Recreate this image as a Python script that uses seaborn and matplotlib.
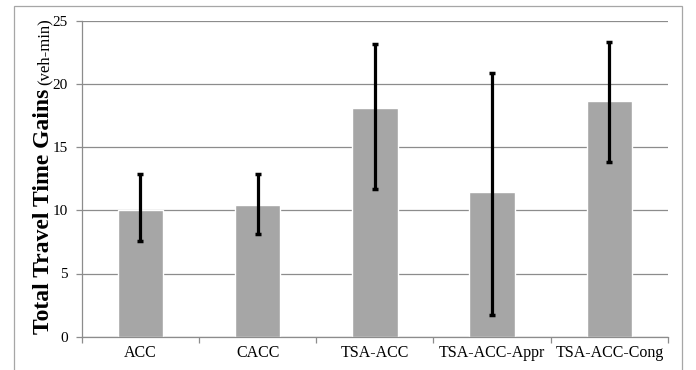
import matplotlib
matplotlib.use('Agg')
import matplotlib.pyplot as plt
import seaborn as sns
import pandas as pd
import numpy as np
from matplotlib.patches import Rectangle
from matplotlib.ticker import FixedLocator

categories = ["ACC", "CACC", "TSA-ACC", "TSA-ACC-Appr", "TSA-ACC-Cong"]
gains = [10.0, 10.4, 18.07, 11.43, 18.68]
ci_low = [7.55, 8.15, 11.7, 1.68, 13.8]
ci_high = [12.85, 12.9, 23.12, 20.88, 23.3]
yticks = [0, 5, 10, 15, 20, 25]
label_main = "Total Travel Time Gains"
label_unit = "(veh-min)"

sns.set_theme(style='white')
plt.rcParams['font.family'] = ['Liberation Serif', 'DejaVu Serif']

W, H = 696, 370
fig = plt.figure(figsize=(W / 100, H / 100), dpi=100)
fig.patch.set_facecolor('white')

# outer chart border
fig.patches.append(Rectangle((14 / W, -0.1), (682 - 14) / W, 1.1 - 6 / H,
                             transform=fig.transFigure, fill=False,
                             edgecolor='#a6a6a6', linewidth=0.9))

ax = fig.add_axes([81.7 / W, 1 - 336.7 / H, (668 - 81.7) / W, (336.7 - 20.7) / H])
df = pd.DataFrame({'cat': categories, 'val': gains})
sns.barplot(data=df, x='cat', y='val', color='#A6A6A6', width=0.387,
            saturation=1, errorbar=None, ax=ax, zorder=2)

xs = [p.get_x() + p.get_width() / 2 for p in ax.patches]
g = np.array(gains)
yerr = [g - np.array(ci_low), np.array(ci_high) - g]
ax.errorbar(xs, gains, yerr=yerr, fmt='none', ecolor='black', elinewidth=2.3,
            capsize=2.5, capthick=2.5, zorder=3)

ax.set_ylim(0, 25)
ax.set_xlim(-0.5, len(categories) - 0.5)
ax.set_yticks(yticks)
ax.set_yticklabels([str(t) for t in yticks])
ax.yaxis.grid(True, color='#8c8c8c', linewidth=0.9)
ax.xaxis.grid(False)
ax.set_axisbelow(True)
for s in ['top', 'right']:
    ax.spines[s].set_visible(False)
for s in ['left', 'bottom']:
    ax.spines[s].set_color('#8c8c8c')
    ax.spines[s].set_linewidth(0.9)

ax.xaxis.set_minor_locator(FixedLocator(np.arange(-0.5, len(categories), 1.0)))
ax.tick_params(axis='x', which='major', length=0, pad=6, labelsize=11.5, labelcolor='black')
ax.tick_params(axis='x', which='minor', length=4, width=0.9, color='#8c8c8c', direction='out', bottom=True)
ax.tick_params(axis='y', which='major', length=4, width=0.9, color='#8c8c8c', direction='out',
               left=True, pad=6, labelsize=11, labelcolor='black')
ax.set_xlabel('')
ax.set_ylabel('')

# composite y label
x_base = 49 / W
y_start = 1 - 334 / H
t1 = fig.text(x_base, y_start, label_main, rotation=90, rotation_mode='anchor',
              ha='left', va='baseline', fontsize=17, fontweight='bold', color='black')
fig.canvas.draw()
bb = t1.get_window_extent(renderer=fig.canvas.get_renderer())
y_end = bb.y1 / H
fig.text(x_base, y_end + 4 / H, label_unit, rotation=90, rotation_mode='anchor',
         ha='left', va='baseline', fontsize=12, color='black')

fig.savefig('out.png', dpi=100, facecolor='white')
